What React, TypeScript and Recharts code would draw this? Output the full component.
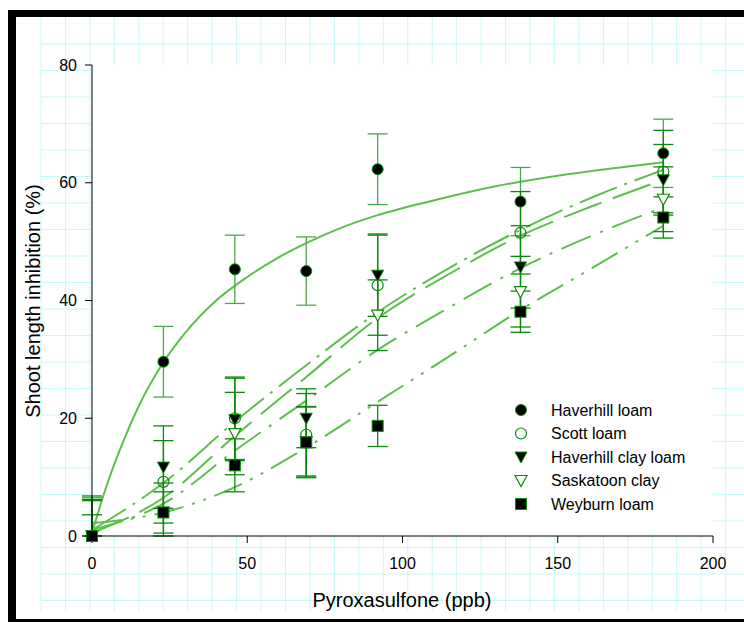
import React from "react";
import { ComposedChart, Line, Scatter, XAxis, YAxis, ErrorBar, CartesianGrid } from "recharts";

// measured points (dose in ppb, inhibition in %)
const doses = [0, 23, 46, 69, 92, 138, 184];
const haverhillLoam = [0, 29.6, 45.3, 45, 62.3, 56.8, 65];
const haverhillLoamErr = [6.5, 6, 5.8, 5.8, 6, 5.8, 5.8];
const scottLoam = [0, 9.2, 20, 17.2, 42.6, 51.5, 61.9];
const scottLoamErr = [6, 7, 7, 7, 8.5, 7, 7];
const haverhillClayLoam = [0, 11.7, 19.8, 20, 44.3, 45.7, 60.5];
const haverhillClayLoamErr = [6.8, 7, 7, 5, 7, 7, 6];
const saskatoonClay = [0, 4, 17.4, 16, 37.5, 41.5, 57.2];
const saskatoonClayErr = [6.2, 5, 7, 6, 6, 6, 5.5];
const weyburnLoam = [0, 4, 12, 15.9, 18.7, 38.1, 54.1];
const weyburnLoamErr = [3.6, 3.5, 4.5, 6, 3.5, 3.5, 3.5];

// fitted curves
const haverhillFitDoses = [0, 5, 10, 15, 23, 30, 40, 50, 60, 70, 80, 92, 110, 130, 150, 170, 184];
const haverhillLoamFit = [0.5, 9, 16, 22, 29.5, 34.5, 40, 44, 47.3, 50, 52.3, 54.5, 57, 59.4, 61.2, 62.6, 63.5];
const fitDoses = [0, 23, 46, 69, 92, 115, 138, 161, 184];
const scottLoamFit = [1, 9, 19.4, 29, 38, 45.5, 52, 57.5, 62.2];
const haverhillClayLoamFit = [0.5, 6.5, 17, 27, 37, 44.5, 51, 56, 60.5];
const saskatoonClayFit = [1, 5.5, 14.5, 23, 31.6, 38.8, 45.5, 51, 55.8];
const weyburnLoamFit = [2.2, 4, 8.3, 15, 22.8, 30.5, 38.4, 45.5, 52.7];

const xTicks = [0, 50, 100, 150, 200];
const yTicks = [0, 20, 40, 60, 80];

const LINE = "#5cbf4c";
const DARK = "#0a8a0a";
const FONT = "'Liberation Sans', Arial, sans-serif";

// error bars stop at the x axis for the untreated control
const pts = (xs: number[], ys: number[], errs?: number[]) =>
  xs.map((x, i) => ({
    x,
    y: ys[i],
    err: errs ? [Math.min(errs[i], ys[i]), errs[i]] : [0, 0],
  }));

type Kind = "fcircle" | "ocircle" | "ftri" | "otri" | "fsquare";

function Marker({ kind, cx, cy }: { kind: Kind; cx: number; cy: number }) {
  const r = 5.5;
  if (kind === "fcircle") return <circle cx={cx} cy={cy} r={r} fill="#000" stroke={DARK} strokeWidth={1} />;
  if (kind === "ocircle") return <circle cx={cx} cy={cy} r={r} fill="none" stroke={DARK} strokeWidth={1.2} />;
  if (kind === "fsquare")
    return <rect x={cx - 5.5} y={cy - 5.5} width={11} height={11} fill="#000" stroke={DARK} strokeWidth={1} />;
  const d = `M${cx - 6},${cy - 5} L${cx + 6},${cy - 5} L${cx},${cy + 6} Z`;
  if (kind === "ftri") return <path d={d} fill="#000" stroke={DARK} strokeWidth={1} />;
  return <path d={d} fill="#fff" stroke={DARK} strokeWidth={1.2} />;
}

const shape = (kind: Kind) => (p: any) => <Marker kind={kind} cx={p.cx} cy={p.cy} />;

const series = [
  { name: "Haverhill loam", kind: "fcircle" as Kind, data: pts(doses, haverhillLoam, haverhillLoamErr), err: "#4aa84a" },
  { name: "Scott loam", kind: "ocircle" as Kind, data: pts(doses, scottLoam, scottLoamErr), err: DARK },
  { name: "Haverhill clay loam", kind: "ftri" as Kind, data: pts(doses, haverhillClayLoam, haverhillClayLoamErr), err: DARK },
  { name: "Saskatoon clay", kind: "otri" as Kind, data: pts(doses, saskatoonClay, saskatoonClayErr), err: DARK },
  { name: "Weyburn loam", kind: "fsquare" as Kind, data: pts(doses, weyburnLoam, weyburnLoamErr), err: DARK },
];

const fits = [
  { data: pts(haverhillFitDoses, haverhillLoamFit), dash: undefined },
  { data: pts(fitDoses, scottLoamFit), dash: "40 8 3 8" },
  { data: pts(fitDoses, haverhillClayLoamFit), dash: "40 12" },
  { data: pts(fitDoses, saskatoonClayFit), dash: "32 10 3 10" },
  { data: pts(fitDoses, weyburnLoamFit), dash: "30 9 3 9 3 9" },
];

function Background() {
  const vx: number[] = [];
  for (let x = 41; x < 744; x += 24.45) vx.push(x);
  const hy: number[] = [];
  for (let y = 44; y < 611; y += 26.5) hy.push(y);
  return (
    <svg width={744} height={623} style={{ position: "absolute", left: 0, top: 0 }}>
      <rect x={0} y={0} width={744} height={623} fill="#fff" />
      {vx.map((x) => (
        <line key={"v" + x} x1={x} x2={x} y1={17} y2={611} stroke="#c6fafa" strokeWidth={1} />
      ))}
      {hy.map((y) => (
        <line key={"h" + y} x1={41} x2={744} y1={y} y2={y} stroke="#c6fafa" strokeWidth={1} />
      ))}
      <rect x={8} y={10} width={736} height={7} fill="#000" />
      <rect x={8} y={10} width={8} height={612} fill="#000" />
      <rect x={8} y={619} width={736} height={3} fill="#000" />
      <text x={402} y={607} textAnchor="middle" fontFamily={FONT} fontSize={20} fill="#000">
        Pyroxasulfone (ppb)
      </text>
      <text
        x={40}
        y={301}
        textAnchor="middle"
        transform="rotate(-90 40 301)"
        fontFamily={FONT}
        fontSize={20}
        fill="#000"
      >
        Shoot length inhibition (%)
      </text>
    </svg>
  );
}

function LegendBox() {
  const rows = [410, 433.5, 457, 480.5, 504];
  return (
    <svg width={744} height={623} style={{ position: "absolute", left: 0, top: 0, pointerEvents: "none" }}>
      {series.map((s, i) => (
        <g key={s.name}>
          <Marker kind={s.kind} cx={521} cy={rows[i]} />
          <text x={551} y={rows[i]} dy="0.35em" fontFamily={FONT} fontSize={16} fill="#000">
            {s.name}
          </text>
        </g>
      ))}
    </svg>
  );
}

export default function App() {
  return (
    <div style={{ position: "absolute", left: 0, top: 0, width: 744, height: 623, overflow: "hidden" }}>
      <Background />
      <div style={{ position: "absolute", left: 0, top: 0 }}>
        <ComposedChart width={744} height={623} margin={{ top: 65, right: 31, bottom: 57, left: 32 }}>
          <CartesianGrid horizontal={false} vertical={false} fill="#fff" stroke="none" />
          <XAxis
            dataKey="x"
            type="number"
            domain={[0, 200]}
            ticks={xTicks}
            height={30}
            tickSize={7}
            tickMargin={15}
            stroke="#000"
            tick={{ fill: "#000", fontSize: 16, fontFamily: FONT }}
          />
          <XAxis
            xAxisId="top"
            orientation="top"
            type="number"
            domain={[0, 200]}
            height={0}
            tick={false}
            tickLine={false}
            axisLine={{ stroke: "#000" }}
          />
          <YAxis
            type="number"
            domain={[0, 80]}
            ticks={yTicks}
            width={60}
            tickSize={7}
            tickMargin={8}
            stroke="#000"
            tick={{ fill: "#000", fontSize: 16, fontFamily: FONT }}
          />
          <YAxis
            yAxisId="right"
            orientation="right"
            type="number"
            domain={[0, 80]}
            width={0}
            tick={false}
            tickLine={false}
            axisLine={{ stroke: "#888" }}
          />
          {fits.map((f, i) => (
            <Line
              key={"fit" + i}
              data={f.data}
              dataKey="y"
              type="monotone"
              dot={false}
              stroke={LINE}
              strokeWidth={2}
              strokeDasharray={f.dash}
              isAnimationActive={false}
            />
          ))}
          {series.map((s) => (
            <Scatter key={s.name} name={s.name} data={s.data} dataKey="y" shape={shape(s.kind)} isAnimationActive={false}>
              <ErrorBar dataKey="err" direction="y" width={10} stroke={s.err} strokeWidth={1.3} />
            </Scatter>
          ))}
        </ComposedChart>
      </div>
      <LegendBox />
    </div>
  );
}
